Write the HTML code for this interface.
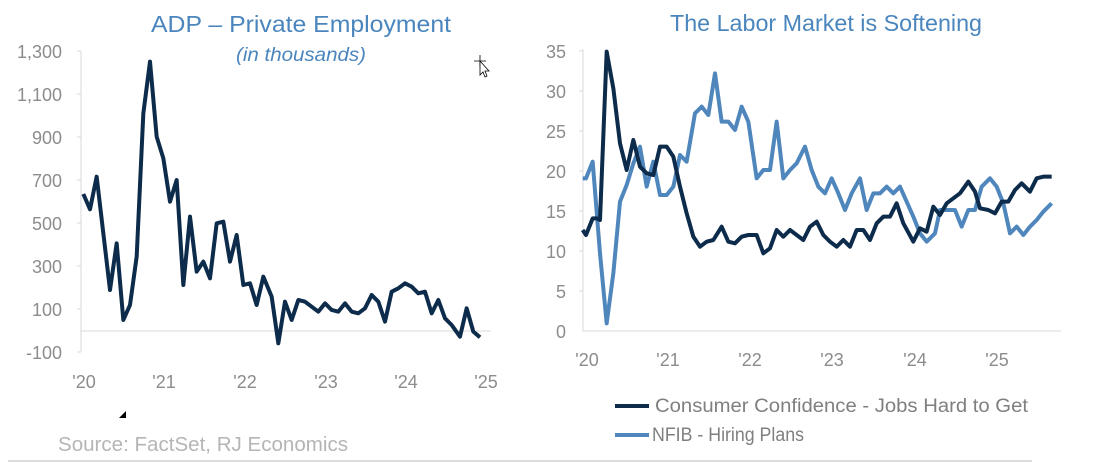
<!DOCTYPE html>
<html><head><meta charset="utf-8"><style>
html,body{margin:0;padding:0;background:#fff;}
svg{display:block;font-family:"Liberation Sans",sans-serif;}
</style></head><body>
<svg width="1106" height="467" viewBox="0 0 1106 467">
<!-- Left chart -->
<text x="301" y="32" text-anchor="middle" font-size="23" fill="#4a86bd" textLength="300" lengthAdjust="spacingAndGlyphs">ADP – Private Employment</text>
<text x="301" y="61" text-anchor="middle" font-size="19" font-style="italic" fill="#4a86bd" textLength="130" lengthAdjust="spacingAndGlyphs">(in thousands)</text>
<line x1="81" y1="51" x2="81" y2="352" stroke="#d9d9d9"/>
<g stroke="#d9d9d9"><line x1="77" y1="51" x2="81" y2="51"/><line x1="77" y1="94" x2="81" y2="94"/><line x1="77" y1="137" x2="81" y2="137"/><line x1="77" y1="180" x2="81" y2="180"/><line x1="77" y1="223" x2="81" y2="223"/><line x1="77" y1="266" x2="81" y2="266"/><line x1="77" y1="309" x2="81" y2="309"/><line x1="77" y1="352" x2="81" y2="352"/></g>
<line x1="81" y1="331" x2="491" y2="331" stroke="#d9d9d9"/>
<g font-size="18" fill="#8c8c8c" text-anchor="end">
<text x="62" y="58">1,300</text><text x="62" y="101">1,100</text><text x="62" y="144">900</text><text x="62" y="187">700</text><text x="62" y="230">500</text><text x="62" y="273">300</text><text x="62" y="316">100</text><text x="62" y="359">-100</text>
</g>
<g font-size="18" fill="#8c8c8c" text-anchor="middle">
<text x="84" y="388">'20</text><text x="164" y="388">'21</text><text x="245" y="388">'22</text><text x="326" y="388">'23</text><text x="406" y="388">'24</text><text x="486" y="388">'25</text>
</g>
<g transform="scale(0.33333)">
<polyline fill="none" stroke="#0d2b4a" stroke-width="12" stroke-linejoin="round" points="250,582 270,628 290,530 310,700 330,870 350,730 370,960 390,915 410,770 430,340 450,185 470,410 490,475 510,605 530,540 550,855 570,650 590,815 610,785 630,835 650,670 670,665 690,785 710,705 730,855 750,850 770,915 790,830 815,890 835,1030 855,905 875,960 895,900 915,905 935,920 955,935 975,910 995,930 1015,935 1035,910 1055,935 1075,940 1095,925 1115,885 1135,905 1155,965 1175,875 1195,865 1215,850 1235,860 1255,880 1275,875 1295,940 1315,900 1335,955 1355,975 1380,1010 1400,925 1420,995 1440,1012"/>
</g>
<path d="M119 418 L126 418 L126 411 Z" fill="#000"/>
<text x="58" y="451" font-size="20" fill="#b5b5b5" textLength="290" lengthAdjust="spacingAndGlyphs">Source: FactSet, RJ Economics</text>
<line x1="8" y1="461" x2="1032" y2="461" stroke="#d0d0d0" stroke-width="1.5"/>
<!-- cursor -->
<g transform="translate(474,55)" stroke="#000" fill="#fff" stroke-width="0.8"><path d="M0 6 H12 M6 0 V12"/><path d="M6 6 L6 20 L9 17 L11 22 L13 21 L11 16 L15 16 Z"/></g>

<!-- Right chart -->
<text x="826" y="31" text-anchor="middle" font-size="23" fill="#4a86bd" textLength="312" lengthAdjust="spacingAndGlyphs">The Labor Market is Softening</text>
<line x1="583" y1="49" x2="583" y2="331" stroke="#d9d9d9"/>
<line x1="583" y1="331" x2="1061" y2="331" stroke="#d9d9d9"/>
<g stroke="#d9d9d9"><line x1="579" y1="51" x2="583" y2="51"/><line x1="579" y1="91" x2="583" y2="91"/><line x1="579" y1="131" x2="583" y2="131"/><line x1="579" y1="171" x2="583" y2="171"/><line x1="579" y1="211" x2="583" y2="211"/><line x1="579" y1="251" x2="583" y2="251"/><line x1="579" y1="291" x2="583" y2="291"/></g>
<g font-size="18" fill="#8c8c8c" text-anchor="end">
<text x="566" y="58">35</text><text x="566" y="98">30</text><text x="566" y="138">25</text><text x="566" y="178">20</text><text x="566" y="218">15</text><text x="566" y="258">10</text><text x="566" y="298">5</text><text x="566" y="338">0</text>
</g>
<g font-size="18" fill="#8c8c8c" text-anchor="middle">
<text x="587" y="366">'20</text><text x="668" y="366">'21</text><text x="750" y="366">'22</text><text x="832" y="366">'23</text><text x="915" y="366">'24</text><text x="997" y="366">'25</text>
</g>
<g transform="translate(540,0) scale(0.33333)" fill="none" stroke-width="12" stroke-linejoin="round">
<polyline stroke="#4f87bd" points="128,535 138,535 158,485 180,760 200,970 220,820 240,605 260,555 280,490 300,440 320,560 340,485 360,585 380,585 400,560 420,465 440,485 465,340 485,320 505,345 525,220 545,365 565,365 585,390 605,320 625,365 650,535 670,510 690,510 710,365 730,535 750,510 770,490 795,440 815,510 835,560 855,580 875,535 895,580 915,630 935,580 960,535 980,630 1000,580 1020,580 1040,560 1060,580 1080,560 1100,605 1120,650 1140,700 1160,725 1185,700 1200,630 1220,630 1245,630 1265,680 1285,630 1305,630 1325,560 1350,535 1370,560 1390,610 1410,700 1430,680 1450,705 1470,680 1490,660 1510,635 1535,610"/>
<polyline stroke="#0d2b4a" points="128,690 138,705 158,655 170,655 180,660 200,155 220,265 240,430 260,510 280,420 300,500 320,520 340,525 360,440 380,440 400,470 420,560 440,640 460,710 480,740 500,725 520,720 545,680 565,725 585,730 605,710 625,705 650,705 670,760 690,745 710,690 730,710 750,690 770,705 790,720 810,680 830,665 850,705 870,725 890,740 910,720 930,740 950,690 970,690 990,720 1010,670 1030,650 1050,650 1070,610 1090,670 1120,725 1140,685 1160,695 1180,620 1200,645 1220,610 1240,595 1260,580 1285,545 1305,575 1320,625 1345,630 1365,640 1385,605 1405,605 1425,570 1445,550 1470,575 1490,535 1510,530 1535,530"/>
</g>
<line x1="615" y1="406" x2="649" y2="406" stroke="#0d2b4a" stroke-width="4"/>
<text x="655" y="412" font-size="19" fill="#7f7f7f" textLength="373" lengthAdjust="spacingAndGlyphs">Consumer Confidence - Jobs Hard to Get</text>
<line x1="615" y1="435" x2="649" y2="435" stroke="#4f87bd" stroke-width="4"/>
<text x="652" y="441" font-size="19" fill="#7f7f7f" textLength="152" lengthAdjust="spacingAndGlyphs">NFIB - Hiring Plans</text>
</svg>
</body></html>
